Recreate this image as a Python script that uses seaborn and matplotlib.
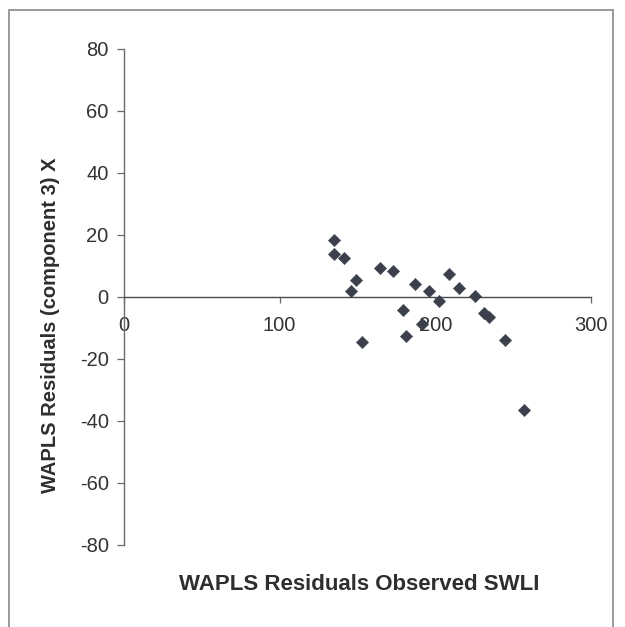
import matplotlib
matplotlib.use("Agg")
import matplotlib.pyplot as plt
import seaborn as sns
import pandas as pd
from matplotlib.patches import Rectangle

# Observed SWLI and WAPLS residuals (component 3)
observed_swli = [134.6, 134.6, 141.5, 149.0, 146.0, 153.2, 164.2, 172.5, 179.2, 181.4,
                 187.1, 191.4, 195.7, 202.1, 208.6, 215.0, 225.3, 231.1, 234.3, 245.0,
                 256.8]
residuals = [18.5, 13.9, 12.5, 5.6, 2.0, -14.4, 9.3, 8.5, -4.1, -12.7,
             4.2, -8.7, 2.0, -1.2, 7.4, 2.9, 0.2, -5.0, -6.3, -13.8,
             -36.3]
x_ticks = [0, 100, 200, 300]
y_ticks = [-80, -60, -40, -20, 0, 20, 40, 60, 80]

df = pd.DataFrame({"observed": observed_swli, "residual": residuals})

sns.set_style("white")
plt.rcParams["font.family"] = ["Liberation Sans", "DejaVu Sans"]

fig = plt.figure(figsize=(6.25, 6.27), dpi=100)
W, H = 625, 627
ax = fig.add_axes([124 / W, 1 - 545 / H, (591 - 124) / W, (545 - 49) / H])

sns.scatterplot(data=df, x="observed", y="residual", marker="D", s=40,
                color="#3b404c", edgecolor="#3b404c", linewidth=0.3, ax=ax,
                zorder=3)

ax.set_xlim(0, 300)
ax.set_ylim(-80, 80)
ax.set_xticks(x_ticks)
ax.set_yticks(y_ticks)
ax.set_xticklabels([str(v) for v in x_ticks])
ax.set_yticklabels([str(v) for v in y_ticks])

axis_col = "#6a6a6a"
for side in ("top", "right"):
    ax.spines[side].set_visible(False)
ax.spines["bottom"].set_position(("data", 0))
ax.spines["left"].set_color(axis_col)
ax.spines["bottom"].set_color("#4a4a4a")
ax.spines["left"].set_linewidth(1.0)
ax.spines["bottom"].set_linewidth(1.0)

ax.tick_params(axis="y", left=True, direction="out", length=5, width=0.9,
               color=axis_col, pad=6, labelsize=14.5, labelcolor="#333333")
ax.tick_params(axis="x", bottom=True, direction="out", length=4, width=0.9,
               color=axis_col, pad=10, labelsize=14.5, labelcolor="#333333")
ax.set_xlabel("")
ax.set_ylabel("")

xl = fig.text(359 / W, 1 - 585 / H, "WAPLS Residuals Observed SWLI", ha="center",
              va="center", fontsize=16, fontweight="bold", color="#2e2e2e")
fig.text(51 / W, 1 - 325 / H, "WAPLS Residuals (component 3) X", ha="center",
         va="center", rotation=90, fontsize=14.5, fontweight="bold",
         color="#2e2e2e")

# chart border
fig.patches.append(Rectangle((9 / W, -0.05), (613 - 9) / W, 1 - 10 / H + 0.05,
                             transform=fig.transFigure, fill=False,
                             edgecolor="#9a9a9a", linewidth=1.4))

fig.savefig("out.png", dpi=100)
